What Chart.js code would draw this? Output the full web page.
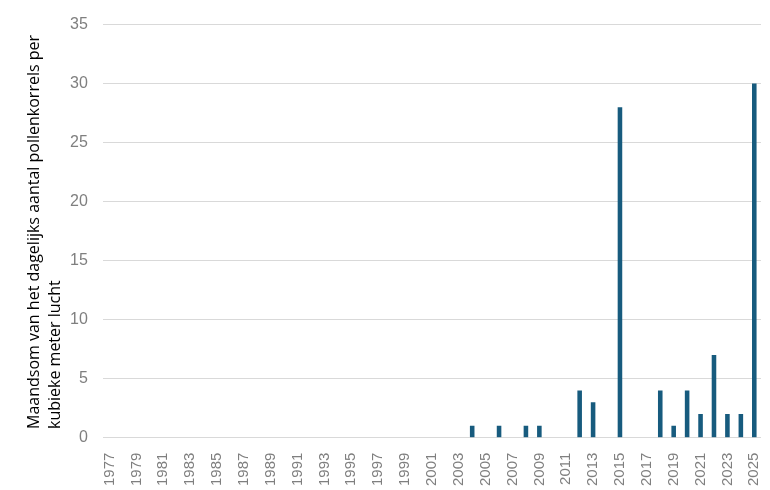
<!DOCTYPE html>
<html>
<head>
<meta charset="utf-8">
<script src="https://cdn.jsdelivr.net/npm/chart.js@4/dist/chart.umd.min.js"></script>
<style>
html,body{margin:0;padding:0;background:#fff;}
#wrap{width:770px;height:490px;position:relative;}
</style>
</head>
<body>
<div id="wrap"><canvas id="c" width="770" height="490"></canvas></div>
<script>
const years = [];
for (let y = 1977; y <= 2025; y++) years.push(String(y));

const dataYears = ['2004','2006','2008','2009','2012','2013','2015','2018','2019','2020','2021','2022','2023','2024','2025'];
const dataValues = [1, 1, 1, 1, 4, 3, 28, 4, 1, 4, 2, 7, 2, 2, 30];

const yTicks = [0, 5, 10, 15, 20, 25, 30, 35];
const axisTitle = ['Maandsom van het dagelijks aantal pollenkorrels per', 'kubieke meter lucht'];

const values = years.map(y => {
  const i = dataYears.indexOf(y);
  return i >= 0 ? dataValues[i] : 0;
});

const titlePlugin = {
  id: 'yTitle',
  afterDraw(chart) {
    const ctx = chart.ctx;
    ctx.save();
    ctx.fillStyle = '#000';
    ctx.font = '16px "Open Sans", sans-serif';
    ctx.textAlign = 'left';
    ctx.textBaseline = 'middle';
    const xs = [34, 55];
    axisTitle.forEach((t, i) => {
      ctx.save();
      ctx.translate(xs[i], 429);
      ctx.rotate(-Math.PI / 2);
      ctx.fillText(t, 0, 0);
      ctx.restore();
    });
    ctx.restore();
  }
};

new Chart(document.getElementById('c'), {
  type: 'bar',
  data: {
    labels: years,
    datasets: [{
      data: values,
      backgroundColor: '#175b7e',
      barPercentage: 0.34,
      categoryPercentage: 1.0
    }]
  },
  options: {
    responsive: false,
    animation: false,
    plugins: { legend: { display: false }, tooltip: { enabled: false } },
    layout: { padding: { left: 55, right: 9, top: 13, bottom: -3 } },
    scales: {
      x: {
        grid: { display: false },
        border: { display: false },
        afterFit: (s) => { s.paddingRight = 0; },
        ticks: {
          color: '#7f7f7f',
          font: { size: 15, family: 'Liberation Sans' },
          minRotation: 90, maxRotation: 90,
          autoSkip: false,
          padding: 7,
          callback: function(v, i) { return i % 2 === 0 ? years[i] : ''; }
        }
      },
      y: {
        min: 0, max: 35,
        afterBuildTicks: (axis) => { axis.ticks = yTicks.map(v => ({ value: v })); },
        grid: { color: '#d9d9d9', drawTicks: false, lineWidth: 1 },
        border: { display: false },
        ticks: {
          color: '#7f7f7f',
          font: { size: 16, family: 'Liberation Sans' },
          padding: 15
        }
      }
    }
  },
  plugins: [titlePlugin]
});
</script>
</body>
</html>
